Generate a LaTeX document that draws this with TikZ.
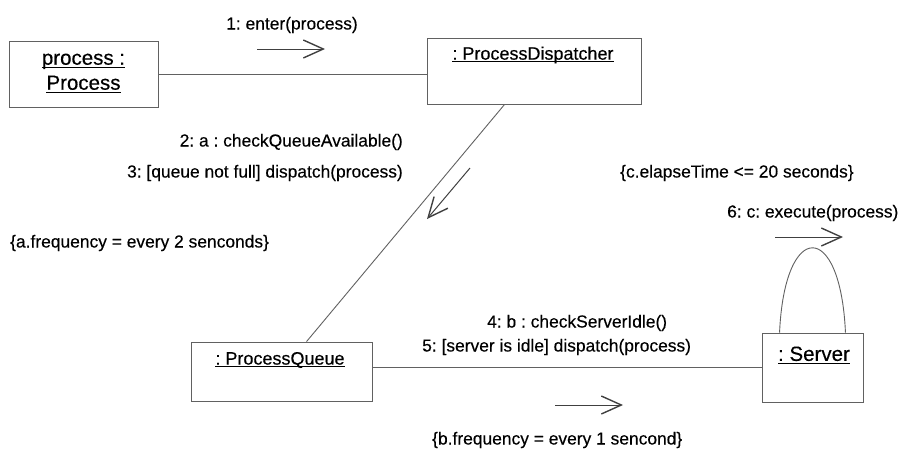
\documentclass[tikz,border=0pt]{standalone}
\usepackage{fontspec}
\setmainfont{Liberation Sans}
\newfontfamily\diagfont[FakeBold=0.3]{Liberation Sans}
\usetikzlibrary{arrows.meta,calc}
\frenchspacing

% underlined object name, rule drawn just under the baseline
\newcommand{\objul}[1]{\setbox0=\hbox{#1}\hbox{\copy0\kern-\wd0\rule[-2.6pt]{\wd0}{0.8pt}}}

\tikzset{
  obj/.style={draw=black!62, line width=0.9pt, fill=white, inner sep=0pt},
  objname/.style={text=black, font=\diagfont\fontsize{18}{22}\selectfont, inner sep=0pt},
  bigname/.style={text=black, font=\diagfont\fontsize{20.5}{26}\selectfont, inner sep=0pt, align=center},
  msg/.style={text=black, font=\diagfont\fontsize{17.4}{21}\selectfont, inner sep=0pt},
  link/.style={draw=black!62, line width=0.9pt},
  flow/.style={draw=black!75, line width=1pt,
    -{Straight Barb[length=20pt,width=18pt,line width=1.4pt]}},
}

\begin{document}
\begin{tikzpicture}[x=1pt, y=-1pt]
\useasboundingbox (0,0) rectangle (901,448);

% objects
\node[obj, minimum width=149pt, minimum height=66pt] (proc) at (83.5,74) {};
\node[bigname] (procname) at (83.5,73) {\objul{process :}\\[-1pt]\objul{Process}};

\node[obj, minimum width=214pt, minimum height=66pt] (disp) at (534,71) {};
\node[objname] (dispname) at (533,55) {\objul{: ProcessDispatcher}};

\node[obj, minimum width=181pt, minimum height=59pt] (queue) at (281.5,371.5) {};
\node[objname] (queuename) at (280,360) {\objul{: ProcessQueue}};

\node[obj, minimum width=101pt, minimum height=69pt] (srv) at (812.5,367.5) {};
\node[bigname] (srvname) at (814,355) {\objul{: Server}};

% links between objects
\draw[link] (proc.east) -- (proc.east -| disp.west);
\draw[link] ($(disp.south west)+(78,0)$) -- ($(queue.north west)+(116,0)$);
\draw[link] (queue.east |- srv.west) -- (srv.west);
\draw[link] ($(srv.north west)+(18,0)$) .. controls +(5,-113) and +(-5,-113) .. ($(srv.north east)+(-18,0)$);

% message direction arrows
\coordinate (m1a) at (257,49);  \coordinate (m1b) at (325,49);
\coordinate (m2a) at (470,168); \coordinate (m2b) at (427,219);
\coordinate (m6a) at (775,237); \coordinate (m6b) at (843,237);
\coordinate (m4a) at (555,405); \coordinate (m4b) at (623,405);
\draw[flow] (m1a) -- (m1b);
\draw[flow] (m2a) -- (m2b);
\draw[flow] (m6a) -- (m6b);
\draw[flow] (m4a) -- (m4b);

% message labels and constraints
\node[msg] (l1) at (292,25) {1: enter(process)};
\node[msg, anchor=east] (l2) at (403,142) {2: a : checkQueueAvailable()};
\node[msg, anchor=east] (l3) at (403,173) {3: [queue not full] dispatch(process)};
\node[msg, anchor=west] (ca) at (10,243) {\{a.frequency = every 2 senconds\}};
\node[msg, anchor=west] (cc) at (620,173) {\{c.elapseTime <= 20 seconds\}};
\node[msg, anchor=west] (l6) at (727,213) {6: c: execute(process)};
\node[msg, anchor=west] (l4) at (487,323) {4: b : checkServerIdle()};
\node[msg, anchor=west] (l5) at (422,347) {5: [server is idle] dispatch(process)};
\node[msg, anchor=west] (cb) at (432,440) {\{b.frequency = every 1 sencond\}};
\end{tikzpicture}
\end{document}
